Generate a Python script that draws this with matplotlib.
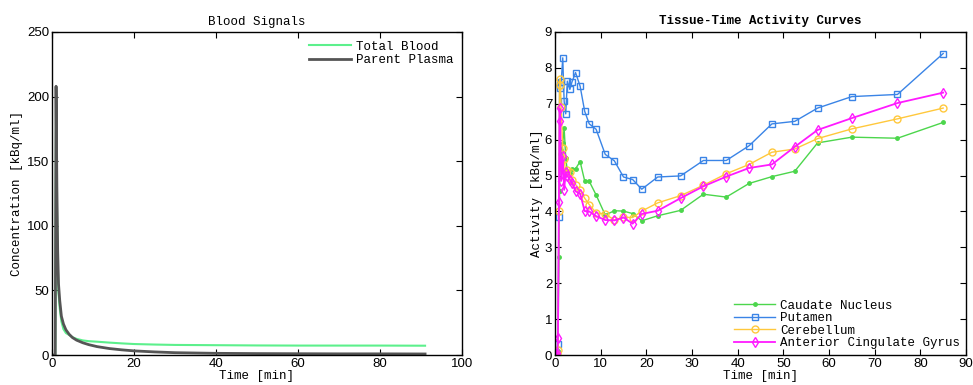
import matplotlib.pyplot as plt

# blood signals
blood_time = [0, 0.8, 1.0, 1.2, 1.4, 1.6, 1.9, 2.3, 2.8, 3.4, 4.2, 5.0, 6.0, 7.5, 9, 11,
              14, 17, 20, 25, 30, 40, 50, 60, 70, 80, 91]
parent_plasma = [0, 0, 208, 130, 80, 55, 42, 30, 24, 19.5, 16, 13.5, 11.5, 9.5, 8, 6.5,
                 5, 4, 3.2, 2.4, 1.8, 1.3, 1.1, 1.0, 0.9, 0.9, 0.8]
total_blood = [0, 0, 200, 120, 72, 48, 36, 26, 20, 17, 15.5, 13.8, 12.5, 11.3, 10.7, 10.3,
               9.6, 9.0, 8.5, 8.1, 7.8, 7.6, 7.4, 7.3, 7.3, 7.3, 7.2]

# tissue time activity curves
tac_time = [0.1, 0.3, 0.5, 0.65, 0.85, 1.0, 1.15, 1.35, 1.7, 2.0, 2.35, 2.7, 3.25, 3.75,
            4.5, 5.5, 6.5, 7.5, 9, 11, 13, 15, 17, 19, 22.5, 27.5, 32.5, 37.5, 42.5, 47.5,
            52.5, 57.5, 65, 75, 85]
caudate = [0, 0, 0.02, 0.1, 2.72, 4.58, 5.6, 5.7, 5.9, 6.33, 5.5, 5.12, 5.06, 5.19,
           5.19, 5.39, 4.85, 4.84, 4.46, 3.90, 4.02, 4.01, 3.94, 3.74, 3.88, 4.03, 4.48, 4.40,
           4.78, 4.97, 5.12, 5.91, 6.07, 6.04, 6.48]
putamen = [0, 0, 0.02, 0.30, 3.85, 7.52, 7.45, 7.60, 8.28, 7.07, 6.72, 7.63, 7.40, 7.62,
           7.87, 7.49, 6.79, 6.44, 6.29, 5.59, 5.41, 4.96, 4.89, 4.62, 4.96, 4.99, 5.42, 5.42,
           5.83, 6.44, 6.51, 6.88, 7.20, 7.26, 8.40]
cerebellum = [0, 0, 0.02, 0.14, 4.01, 7.52, 7.70, 6.9, 5.76, 5.45, 5.1, 5.15, 5.1, 4.89,
              4.75, 4.60, 4.37, 4.19, 3.96, 3.93, 3.76, 3.84, 3.83, 4.01, 4.24, 4.44, 4.73, 5.05,
              5.31, 5.65, 5.74, 6.03, 6.30, 6.58, 6.88]
acg = [0, 0.02, 0.05, 0.47, 4.27, 6.87, 6.52, 4.85, 5.54, 4.60, 5.10, 5.0, 4.89, 4.80,
       4.56, 4.50, 4.01, 4.00, 3.87, 3.76, 3.75, 3.83, 3.66, 3.93, 4.02, 4.37, 4.70, 4.97,
       5.21, 5.31, 5.80, 6.27, 6.60, 7.02, 7.31]

mono = 'Liberation Mono'
sans = 'Liberation Sans'

fig = plt.figure(figsize=(9.73, 3.85), dpi=100)
ax1 = fig.add_axes([0.0534, 0.0779, 0.4214, 0.839])
ax2 = fig.add_axes([0.5704, 0.0779, 0.4224, 0.839])

ax1.plot(blood_time, total_blood, color='#5cf08c', lw=1.5, label='Total Blood')
ax1.plot(blood_time, parent_plasma, color='#555555', lw=2, label='Parent Plasma')
ax1.set_xlim(0, 100)
ax1.set_ylim(0, 250)
ax1.set_xticks([0, 20, 40, 60, 80, 100])
ax1.set_yticks([0, 50, 100, 150, 200, 250])
ax1.set_title('Blood Signals', fontsize=9, family=mono, pad=5)
ax1.set_xlabel('Time [min]', fontsize=9, family=mono, labelpad=0)
ax1.set_ylabel('Concentration [kBq/ml]', fontsize=9, family=mono, labelpad=3)
ax1.legend(loc='upper right', frameon=False, prop={'family': mono, 'size': 9},
           handlelength=3.3, labelspacing=0.1, borderaxespad=0.3, handletextpad=0.4)

ax2.plot(tac_time, caudate, color='#4cd64c', lw=1, marker='.', ms=5,
         label='Caudate Nucleus')
ax2.plot(tac_time, putamen, color='#3a84e6', lw=1, marker='s', ms=4, mfc='none',
         label='Putamen')
ax2.plot(tac_time, cerebellum, color='#ffc83c', lw=1, marker='o', ms=5, mfc='none',
         label='Cerebellum')
ax2.plot(tac_time, acg, color='#ff1aff', lw=1.3, marker='d', ms=5, mfc='none',
         label='Anterior Cingulate Gyrus')
ax2.set_xlim(0, 90)
ax2.set_ylim(0, 9)
ax2.set_xticks(range(0, 91, 10))
ax2.set_yticks(range(0, 10))
ax2.set_title('Tissue-Time Activity Curves', fontsize=9, family=mono,
              fontweight='bold', pad=6)
ax2.set_xlabel('Time [min]', fontsize=9, family=mono, labelpad=0)
ax2.set_ylabel('Activity [kBq/ml]', fontsize=9, family=mono, labelpad=1)
ax2.legend(loc='lower right', frameon=False, prop={'family': mono, 'size': 9},
           handlelength=3.3, labelspacing=0.05, borderaxespad=0.05, handletextpad=0.4)

for ax in (ax1, ax2):
    ax.tick_params(direction='in', top=True, right=True, length=4, width=0.8,
                   labelsize=9.5, pad=2)
    for lbl in ax.get_xticklabels() + ax.get_yticklabels():
        lbl.set_family(sans)
    for s in ax.spines.values():
        s.set_linewidth(1)

fig.savefig('out.png', dpi=100)
